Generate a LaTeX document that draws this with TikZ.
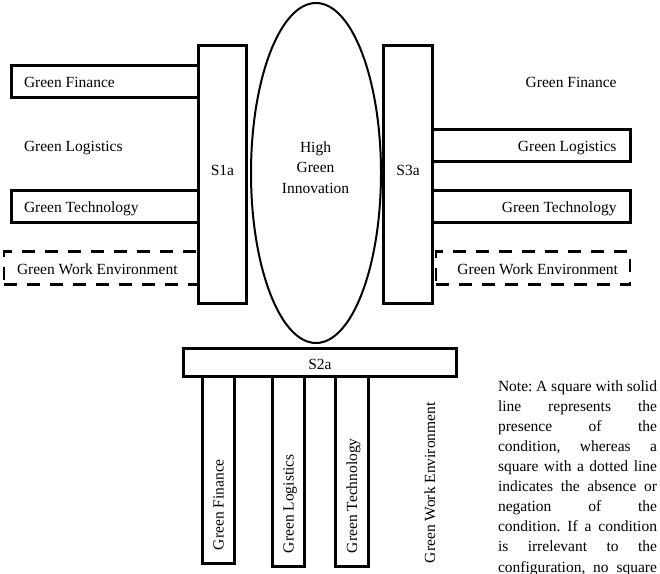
\documentclass[tikz,border=0pt]{standalone}
\usepackage{fontspec}
\setmainfont{Liberation Serif}
\usetikzlibrary{shapes.geometric}
\tikzset{
  txt/.style={font=\fontsize{15.5}{20.1}\selectfont, inner sep=0pt, outer sep=0pt},
  fullbox/.style={draw, line width=2.6pt, rectangle, inner sep=0pt, outer sep=0pt, anchor=north west, fill=white},
  dashbox/.style={draw, line width=2.8pt, dash pattern=on 13pt off 10pt, rectangle, inner sep=0pt, outer sep=0pt, anchor=north west},
  oval/.style={draw, line width=2pt, ellipse, inner sep=0pt, outer sep=0pt}
}
\newcommand{\jline}[1]{\makebox[159pt][s]{#1}}
\begin{document}
\begin{tikzpicture}[x=1pt,y=-1pt]
\useasboundingbox (0,0) rectangle (660,573);
% ellipse
\node[oval, minimum width=130, minimum height=340] (hgi) at (316,173) {};
\node[txt, align=center, font=\fontsize{15.5}{20.5}\selectfont] (hgitxt) at (315.5,167.5) {High\\Green\\Innovation};
% left boxes
\node[fullbox, minimum width=187, minimum height=32] (lgf) at (11.5,65.5) {};
\node[fullbox, minimum width=187, minimum height=32] (lgt) at (11.5,190.5) {};
\node[dashbox, minimum width=194.5, minimum height=33] (lgwe) at (4,251.5) {};
\node[fullbox, minimum width=48, minimum height=258] (s1a) at (198.5,45.5) {};
% right boxes
\node[fullbox, minimum width=198, minimum height=32] (rgl) at (432.5,129.5) {};
\node[fullbox, minimum width=198, minimum height=32] (rgt) at (432.5,190.5) {};
\node[dashbox, minimum width=194, minimum height=33] (rgwe) at (436,251.5) {};
\node[fullbox, minimum width=49, minimum height=258] (s3a) at (383.5,45.5) {};
% bottom bars
\node[fullbox, minimum width=32, minimum height=187] (b1) at (202.5,376.5) {};
\node[fullbox, minimum width=32, minimum height=190] (b2) at (272.5,376.5) {};
\node[fullbox, minimum width=33, minimum height=190] (b3) at (335.5,376.5) {};
\node[fullbox, minimum width=273, minimum height=28] (s2a) at (183.5,348.5) {};
% labels
\node[txt, anchor=base] (s1at) at (222.5,175) {S1a};
\node[txt, anchor=base] (s3at) at (408,175) {S3a};
\node[txt, anchor=base] (s2at) at (320,369.5) {S2a};
\node[txt, anchor=base west] (lgft) at (24,87) {Green Finance};
\node[txt, anchor=base west] (lglt) at (24,151.7) {Green Logistics};
\node[txt, anchor=base west] (lgtt) at (24,212.7) {Green Technology};
\node[txt, anchor=base west] (lgwet) at (17,274) {Green Work Environment};
\node[txt, anchor=base east] (rgft) at (616.5,87) {Green Finance};
\node[txt, anchor=base east] (rglt) at (616.5,151.7) {Green Logistics};
\node[txt, anchor=base east] (rgtt) at (616.5,212.7) {Green Technology};
\node[txt, anchor=base east] (rgwet) at (618,274) {Green Work Environment};
\node[txt, anchor=base west, rotate=90] (b1t) at (223.5,550) {Green Finance};
\node[txt, anchor=base west, rotate=90] (b2t) at (293.5,553) {Green Logistics};
\node[txt, anchor=base west, rotate=90] (b3t) at (357,553) {Green Technology};
\node[txt, anchor=base west, rotate=90] (bgwet) at (435,563) {Green Work Environment};
% note
\node[txt, anchor=north west, text width=159pt, align=left] (note) at (498,380.4) {%
\frenchspacing\spaceskip=0pt\xspaceskip=0pt
\jline{Note: A square with solid}\\
\jline{line represents the}\\
\jline{presence of the}\\
\jline{condition, whereas a}\\
\jline{square with a dotted line}\\
\jline{indicates the absence or}\\
\jline{negation of the}\\
\jline{condition. If a condition}\\
\jline{is irrelevant to the}\\
\jline{configuration, no square}};
\end{tikzpicture}
\end{document}
